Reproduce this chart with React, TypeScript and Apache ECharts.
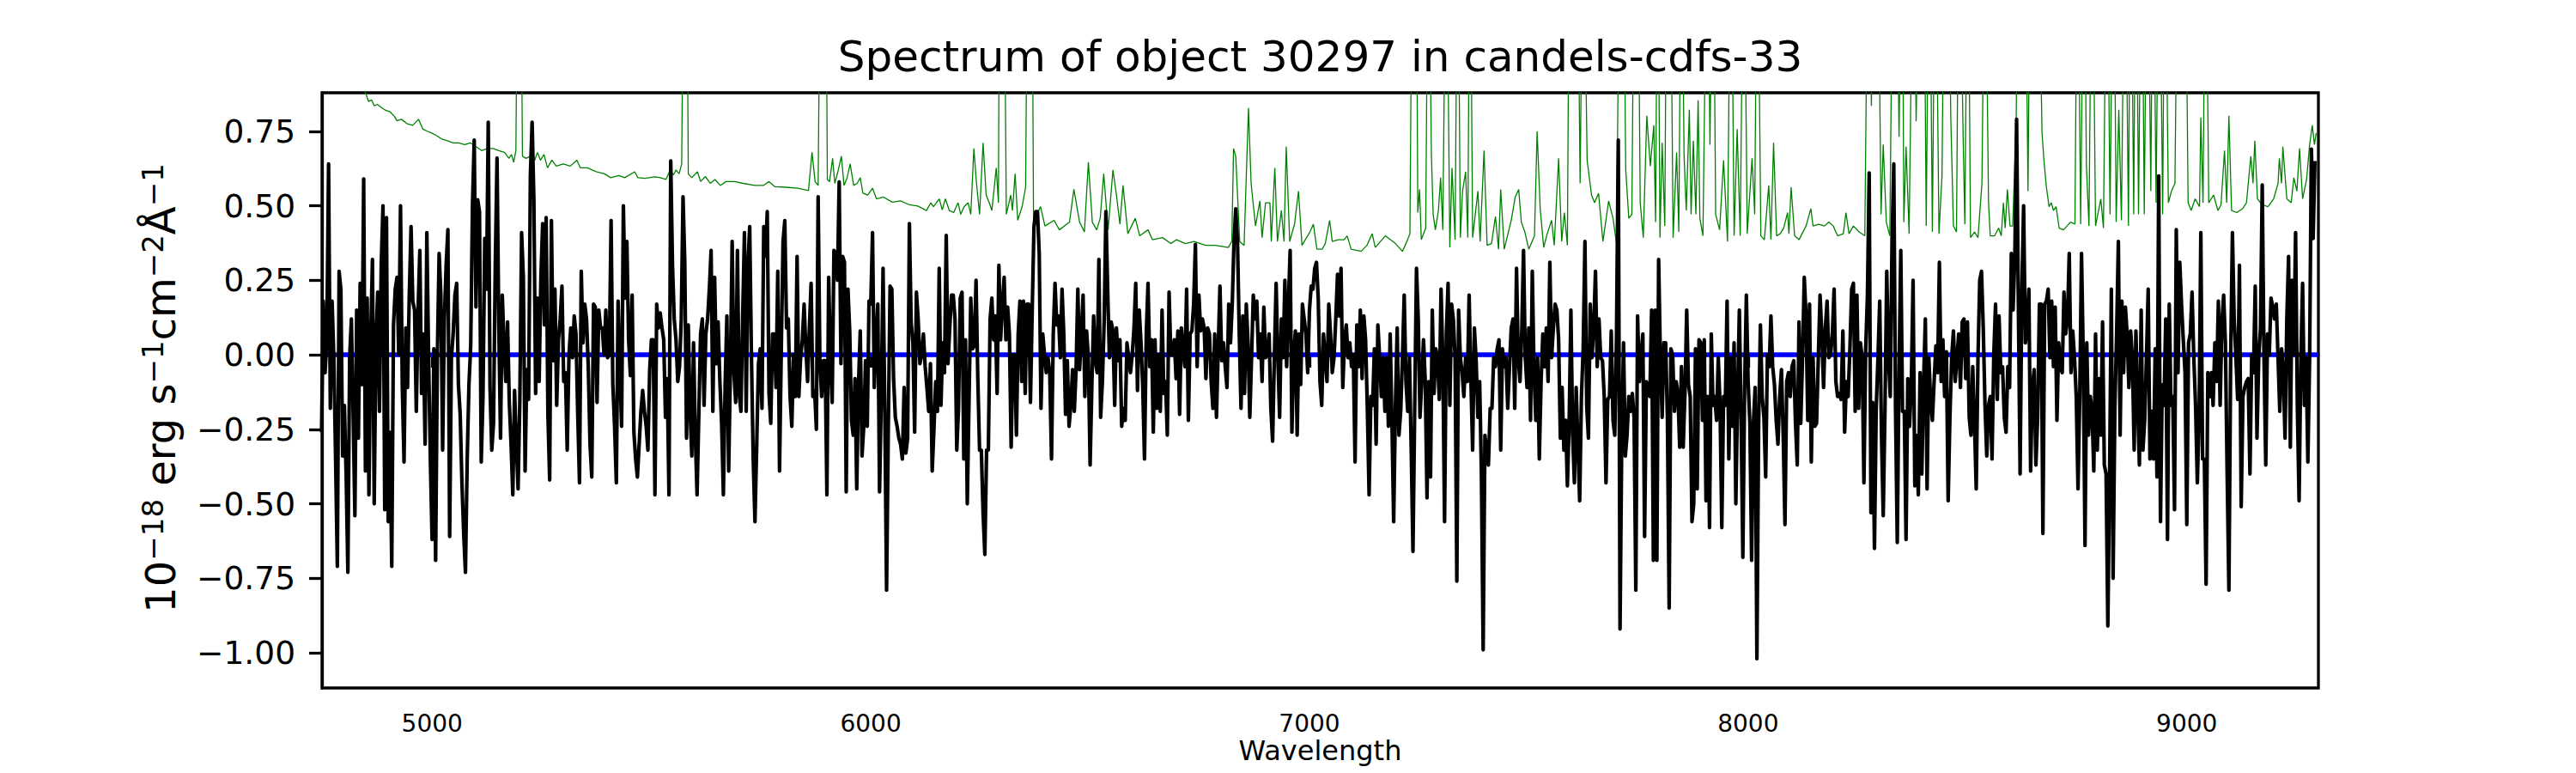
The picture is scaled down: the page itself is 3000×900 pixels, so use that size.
import React, { useEffect, useRef } from "react";
import * as echarts from "echarts";

const FONT = "DejaVu Sans";
const TITLE = "Spectrum of object 30297 in candels-cdfs-33";
const X_NAME = "Wavelength";

// wavelength grid of the flux spectrum (Angstrom)
const WAVE_START = 4748;
const WAVE_STEP = 4;

// flux (1e-18 erg/s/cm2/A), 4 A sampling
const FLUX_SEG1 = [
  -0.26, 0.18, -0.06, 0.05, 0.64, -0.18, 0.18, -0.01, -0.35, -0.71,
  0.28, 0.22, -0.34, -0.17, -0.4, -0.73, -0.01, 0.12, -0.2, -0.54,
  0.15, -0.28, 0.24, -0.1, 0.59, -0.39, 0.19, -0.47, 0.05, 0.32,
  -0.5, 0.05, 0.21, -0.19, 0.3, 0.5, -0.52, 0.46, -0.56, -0.26,
  -0.71, 0.1, 0.22, 0.26, 0.0, 0.5, -0.1, -0.36, 0.09, -0.11,
  0.2, 0.43, 0.18, 0.15, -0.19, 0.15, 0.35, -0.13, 0.07, -0.3,
  0.41, -0.01, -0.35, -0.62, 0.02, -0.69, 0.0, 0.34, 0.2, -0.32,
  0.12, 0.3, 0.42, -0.61, -0.01, 0.07, 0.2, 0.24, -0.1, -0.2,
  -0.43, -0.6, -0.73, -0.35, -0.1, 0.03, 0.5, 0.72, 0.16, 0.52,
  0.48, -0.36, -0.14, 0.39, 0.22, 0.78, -0.11, -0.32, -0.23, 0.3,
  0.66, 0.1, -0.28, 0.2, 0.03, -0.09, 0.11, -0.16, -0.3, -0.47,
  -0.12, -0.3, -0.45, -0.15, 0.41, 0.26, -0.39, -0.05, -0.15, 0.6,
  0.78, 0.52, -0.13, 0.19, -0.09, 0.26, 0.44, 0.1, 0.46, -0.2,
  -0.42, 0.45, -0.02, 0.22, -0.17, 0.05, 0.12, 0.23, -0.09, -0.06,
  -0.32, 0.0, 0.09, -0.01, 0.13, 0.07, -0.2, -0.43, 0.28, 0.04,
  0.17, 0.12, -0.04, -0.3, -0.41, 0.17, 0.16, -0.16, 0.15, 0.09,
  0.09, 0.0, 0.15, -0.01, 0.0, 0.45, -0.1, -0.24, -0.43, 0.18,
  -0.05, -0.24, 0.5, 0.19, 0.38, 0.05, -0.07, 0.2, -0.26, -0.35,
  -0.41, -0.3, -0.19, -0.12, -0.19, -0.24, -0.32, -0.05, 0.05, 0.05,
];
const FLUX_SEG2 = [
  -0.47, 0.17, 0.09, 0.14, 0.09, 0.05, -0.21, -0.08, -0.47, 0.65,
  0.3, 0.12, 0.05, -0.09, -0.04, 0.12, 0.53, 0.31, -0.28, 0.1,
  -0.18, -0.34, 0.04, -0.27, -0.47, -0.2, 0.07, 0.12, -0.17, 0.07, 0.12,
  0.22, 0.35, -0.19, 0.26, -0.03, 0.11, -0.09, -0.23, -0.47, -0.1,
  0.13, -0.39, -0.05, 0.38, -0.06, -0.16, 0.35, -0.13, -0.19, 0.13,
  0.41, -0.19, 0.3, 0.43, -0.01, -0.35, -0.56, -0.3, -0.03, 0.02, -0.18,
  0.43, 0.33, 0.48, -0.13, -0.23, 0.07, 0.07, -0.11, 0.28, -0.39,
  0.02, 0.38, 0.45, 0.09, 0.12, -0.14, -0.24, 0.0, -0.14, 0.33,
  -0.14, -0.01, 0.05, 0.17, 0.02, -0.09, 0.09, 0.24, -0.14, -0.12, -0.25,
  0.53, -0.02, -0.14, -0.02, -0.02, -0.47, 0.26, -0.01, -0.16, 0.35,
  0.34, 0.25, 0.58, -0.03, 0.33, 0.31, -0.46, 0.22, 0.08, -0.22,
  -0.27, -0.08, -0.45, -0.1, 0.08, -0.34, -0.24, -0.02, -0.24, 0.18, 0.17,
  0.41, -0.11, 0.05, 0.17, -0.46, -0.14, 0.29, -0.19, -0.79, -0.24,
  0.23, 0.22, -0.08, -0.21, -0.24, -0.28, -0.3, -0.35, -0.11, -0.33, -0.28,
  0.44, 0.11, 0.04, -0.26, 0.21, 0.12, -0.03, 0.0, 0.07, -0.04,
  -0.11, -0.19, -0.03, -0.39, -0.25, -0.09, -0.19, 0.29, -0.17, 0.04, -0.06,
  0.4, -0.03, 0.09, 0.2, 0.2, 0.12, -0.32, -0.18, 0.19, 0.21,
  -0.35, 0.05, -0.5, -0.15, 0.19, 0.02, 0.03, 0.25, -0.08, -0.32, -0.32,
  -0.53, -0.67, -0.32,
];
const FLUX_SEG3 = [
  -0.32, 0.12, 0.19, 0.05, 0.13, -0.13, 0.3, 0.05, 0.17, 0.26,
  0.05, 0.16, 0.07, -0.31, 0.0, 0.0, -0.27, 0.07, 0.18, -0.09,
  0.18, -0.13, 0.17, 0.17, -0.16, 0.15, 0.43, 0.48, 0.48, 0.34,
  -0.18, 0.07, 0.0, -0.06, -0.01, -0.06, -0.35, 0.07, 0.24, 0.1,
  0.13, -0.01, 0.22, 0.07, -0.2, -0.02, -0.24, -0.17, -0.05, -0.19,
  -0.05, 0.22, -0.05, 0.07, 0.2, -0.14, 0.08, -0.01, -0.37, -0.1,
  0.13, -0.02, -0.06, 0.32, -0.21, -0.09, 0.11, 0.48, 0.22, -0.01,
  0.11, 0.08, -0.17, 0.09, -0.02, 0.05, -0.24, -0.18, -0.22, 0.04,
  -0.01, -0.06, 0.0, 0.09, 0.24, -0.12, 0.15, 0.04, -0.11, -0.35,
  0.07, 0.24, -0.04, 0.05, -0.26, 0.05, -0.18, 0.0, -0.19, 0.15,
  -0.13, -0.09, -0.27, 0.21, 0.0, 0.0, 0.05, -0.08, 0.08, -0.2,
  0.09, 0.02, -0.04, 0.22, -0.22, 0.07, 0.08, 0.17, 0.37, -0.04,
  0.2, 0.08, 0.12, 0.09, -0.08, 0.09, 0.07, -0.09, -0.18, 0.07,
  -0.21, 0.02, 0.23, -0.02, 0.04, -0.04, -0.11, 0.17, 0.04, 0.17,
  0.38, 0.49, 0.38, 0.07, -0.18, 0.13, -0.13, 0.17, 0.04, -0.21,
  -0.01, 0.2, 0.12, 0.18, -0.01, 0.07, -0.09, 0.16, -0.01, 0.0,
  0.07, -0.18, -0.29, -0.01, 0.24, -0.01, -0.21, 0.12, -0.01, 0.25,
  -0.04, 0.17, 0.35, -0.26, 0.0, 0.08, -0.27, 0.07, -0.1, 0.17,
  0.12, 0.07, -0.06, 0.15, 0.23, 0.22, 0.29, 0.31, 0.19, -0.09,
];
const FLUX_SEG4 = [
  -0.17, 0.07, -0.01, -0.09, 0.17, 0.07, -0.06, -0.01, 0.12,
  0.27, 0.13, 0.29, -0.11, 0.05, 0.1, -0.01, 0.04, -0.04, 0.0,
  -0.36, 0.1, -0.04, 0.15, -0.08, 0.13, 0.05, -0.18, -0.47,
  -0.14, -0.17, 0.02, -0.3, 0.1, -0.01, -0.14, -0.01, -0.19, -0.01,
  -0.24, 0.07, -0.22, -0.56, -0.17, 0.09, -0.27, -0.19, -0.01,
  0.2, -0.09, -0.19, -0.01, -0.32, -0.66, -0.17, 0.29, 0.12, -0.21,
  -0.09, 0.05, -0.09, -0.48, -0.09, -0.41, 0.15, -0.13, 0.02, -0.01,
  -0.15, 0.22, -0.01, -0.56, 0.07, 0.24, -0.17, 0.17, 0.12, -0.01,
  -0.76, 0.15, -0.01, -0.06, -0.14, -0.01, -0.09, 0.2, -0.08, -0.32,
  0.09, -0.02, -0.21, -0.09, -0.4, -0.99, -0.27, -0.32, -0.37, -0.18,
  -0.18, -0.01, -0.04, 0.02, 0.05, -0.32, 0.02, -0.04, -0.01,
  -0.18, -0.04, 0.09, 0.12, -0.18, 0.29, -0.01, -0.09, 0.08, 0.35,
  -0.01, -0.11, 0.09, -0.22, 0.28, -0.06, -0.22, -0.01, -0.35,
  -0.09, 0.07, -0.04, 0.09, -0.09, 0.31, -0.01, 0.09, 0.17, 0.15,
  0.05, -0.28, -0.11, -0.32, -0.22, -0.44, -0.23, 0.15, -0.27, -0.43,
  -0.11, -0.3, -0.49, -0.14, 0.02, 0.38, -0.17, -0.28, 0.17,
  -0.01, 0.09, 0.28, -0.04, 0.12, -0.01, -0.02, -0.14, -0.43, -0.15,
  -0.14, 0.08, -0.22, -0.27, 0.07, 0.72, -0.92, -0.27, 0.04, -0.34,
  -0.27, -0.14, -0.19, -0.13, -0.21, -0.79, 0.13, -0.09, 0.0,
  0.07, -0.61, -0.09, -0.13, -0.14, 0.15, -0.69,
];
const FLUX_SEG5 = [
  0.15, -0.69, 0.32, -0.01, -0.21, 0.04, 0.04, -0.21, -0.85, 0.02,
  0.0, -0.19, -0.09, -0.13, -0.31, -0.04, -0.31, -0.13, 0.15,
  -0.1, -0.14, -0.56, -0.5, 0.02, -0.45, 0.05, 0.04, -0.22, 0.05,
  -0.49, -0.14, -0.58, 0.07, -0.17, -0.14, -0.22, -0.01, -0.17,
  -0.58, -0.14, -0.17, 0.18, -0.35, -0.01, -0.24, 0.04, -0.5, -0.14,
  0.15, -0.22, -0.68, -0.11, 0.2, -0.09, -0.23, -0.69, -0.23,
  -0.11, -1.02, -0.23, 0.1, -0.14, -0.21, -0.41, 0.0, -0.04, 0.13,
  -0.04, -0.1, -0.22, -0.3, -0.14, -0.05, -0.27, -0.57, -0.09, -0.06,
  -0.14, -0.04, -0.02, -0.23, -0.37, 0.11, -0.23, -0.01, 0.26, 0.13,
  -0.22, 0.17, -0.36, -0.01, -0.24, -0.23, -0.01, 0.2, 0.07,
  -0.11, 0.09, 0.18, -0.01, 0.0, 0.07, 0.22, -0.09, -0.14, -0.13,
  -0.15, 0.08, -0.26, -0.09, -0.14, 0.02, 0.22, 0.24, -0.19,
  0.2, -0.18, 0.04, -0.01, -0.43, 0.02, 0.2, 0.61, -0.53, -0.16,
  -0.65, -0.18, -0.01, 0.18, -0.27, -0.54, -0.18, 0.28, -0.01, -0.14,
  0.38, 0.64, -0.18, -0.63, -0.06, 0.35, -0.19, -0.19, -0.62, -0.08,
  -0.24, -0.1, 0.25, -0.44, -0.27, -0.47, -0.06, -0.4, -0.09,
  0.12, -0.45, -0.01, -0.15, -0.22, -0.09, 0.03, -0.06, 0.31, -0.09,
  0.05, -0.14, 0.01, -0.49, -0.21, -0.01, 0.08, -0.09, -0.01, 0.07,
  -0.11, 0.11, 0.12, -0.08, 0.11, -0.21, -0.27, -0.04, -0.23,
  -0.45, -0.01, 0.25, 0.28, 0.09, -0.17, -0.34,
];
const FLUX_SEG6 = [
  -0.17, -0.14, -0.35, 0.0, 0.17, -0.15, 0.13, -0.06, -0.04,
  -0.21, -0.26, -0.04, -0.11, 0.34, 0.15, 0.33, 0.79, 0.17, -0.4,
  0.22, 0.5, 0.04, 0.09, 0.22, -0.39, -0.11, -0.05, -0.37,
  -0.21, 0.17, 0.17, -0.6, 0.17, 0.18, 0.22, -0.01, 0.18, -0.04,
  0.16, -0.22, 0.04, -0.04, -0.06, 0.21, 0.07, 0.12, 0.34,
  -0.06, 0.08, -0.01, -0.14, -0.45, -0.14, 0.34, -0.01, -0.64, 0.04,
  -0.27, -0.14, -0.19, -0.39, 0.07, -0.32, -0.08, -0.27, 0.11, -0.37,
  -0.4, -0.91, -0.4, 0.22, -0.75, -0.18, 0.07, 0.38, -0.27, 0.18,
  -0.06, 0.16, 0.07, -0.11, 0.08, -0.01, -0.32, 0.08, -0.17, -0.37,
  0.15, -0.32, -0.22, -0.01, 0.22, -0.35, -0.19, -0.35, 0.02, -0.41,
  0.6, -0.56, -0.1, -0.17, 0.12, -0.62, 0.17, -0.17, -0.14, -0.52,
  0.42, -0.06, 0.31, 0.17, 0.05, -0.06, -0.57, 0.04, 0.07,
  0.21, -0.01, -0.17, -0.43, -0.22, 0.41, -0.35, -0.35, -0.77, -0.06,
  -0.14, -0.06, -0.17, 0.04, -0.09, 0.18, -0.17, 0.11, 0.2,
  0.04, -0.4, -0.79, -0.01, 0.41, 0.12, -0.01, -0.15, 0.3, -0.51,
  -0.14, -0.11, -0.09, -0.08, -0.4, 0.0, -0.06, 0.23, -0.28,
  -0.01, 0.09, 0.57, -0.01, -0.37, 0.07, 0.0, 0.19, 0.16,
  0.12, 0.17, -0.01, -0.19, 0.02, -0.06, -0.28, 0.12, 0.33,
  -0.31, 0.25, 0.0, 0.41, -0.17, -0.49, -0.01, 0.24, -0.17, -0.01,
  -0.36, -0.01, 0.69, 0.39, 0.65,
];

// error / sky spectrum (green), [wavelength, value]; spikes run off the top
const SKY_SEG1 = [
  [4748, 1.0], [4790, 0.95], [4830, 0.9], [4848, 0.88], [4855, 0.85], [4862, 0.855], [4868, 0.835],
  [4875, 0.84], [4884, 0.83], [4894, 0.82], [4904, 0.815], [4914, 0.8], [4920, 0.785], [4930, 0.79],
  [4943, 0.775], [4956, 0.77], [4969, 0.79], [4979, 0.757], [4989, 0.75], [4999, 0.744], [5008, 0.737],
  [5022, 0.724], [5035, 0.718], [5048, 0.711], [5061, 0.711], [5074, 0.705], [5087, 0.711], [5100, 0.698],
  [5113, 0.685], [5126, 0.692], [5139, 0.692], [5152, 0.685], [5165, 0.679], [5175, 0.659], [5181, 0.672],
  [5186, 0.646], [5191, 0.685], [5196, 1.6], [5201, 1.6], [5206, 0.666], [5214, 0.659], [5224, 0.666],
  [5234, 0.653], [5240, 0.679], [5247, 0.653], [5255, 0.672], [5263, 0.627], [5273, 0.653], [5283, 0.633],
  [5299, 0.64], [5315, 0.633], [5330, 0.653], [5338, 0.627], [5354, 0.627], [5374, 0.614], [5393, 0.607],
  [5407, 0.594], [5426, 0.601], [5439, 0.594], [5462, 0.614], [5469, 0.594], [5485, 0.592], [5508, 0.597],
];
const SKY_SEG2 = [
  [5520, 0.594], [5533, 0.588], [5543, 0.62], [5550, 0.603], [5556, 0.62], [5563, 0.607], [5569, 0.64],
  [5574, 1.6], [5580, 1.6], [5584, 0.607], [5592, 0.594], [5605, 0.614], [5612, 0.581], [5623, 0.598],
  [5634, 0.575], [5645, 0.588], [5657, 0.568], [5670, 0.581], [5690, 0.581], [5709, 0.575], [5736, 0.568],
  [5755, 0.568], [5768, 0.581], [5781, 0.564], [5807, 0.562], [5833, 0.559], [5858, 0.551], [5866, 0.679],
  [5873, 0.581], [5880, 0.568], [5886, 1.6], [5897, 1.6], [5901, 0.588], [5906, 0.581], [5913, 0.659],
  [5918, 0.575], [5925, 0.614], [5933, 0.666], [5939, 0.568], [5946, 0.594], [5953, 0.64], [5961, 0.568],
  [5969, 0.575], [5976, 0.594], [5982, 0.542], [5993, 0.536], [6004, 0.559], [6013, 0.523], [6029, 0.529],
  [6049, 0.512], [6068, 0.516], [6088, 0.503], [6107, 0.499], [6127, 0.484], [6137, 0.51], [6143, 0.497],
  [6156, 0.523], [6163, 0.486], [6170, 0.523], [6179, 0.484], [6189, 0.477], [6199, 0.51], [6205, 0.471],
  [6213, 0.497], [6222, 0.51], [6228, 0.471], [6235, 0.692], [6241, 0.575], [6248, 0.471], [6256, 0.711],
  [6263, 0.536],
];
const SKY_SEG3 = [
  [6270, 0.51], [6276, 0.484], [6286, 0.627], [6291, 0.51], [6294, 1.6], [6303, 1.6], [6309, 0.471],
  [6319, 0.536], [6323, 0.484], [6329, 0.607], [6335, 0.451], [6345, 0.497], [6353, 0.562], [6358, 1.6],
  [6367, 1.6], [6371, 0.445], [6387, 0.497], [6397, 0.432], [6418, 0.451], [6430, 0.419], [6453, 0.445],
  [6463, 0.555], [6476, 0.445], [6487, 0.412], [6496, 0.646], [6505, 0.445], [6515, 0.419], [6523, 0.458],
  [6531, 0.607], [6541, 0.419], [6552, 0.62], [6560, 0.536], [6568, 0.438], [6575, 0.568], [6586, 0.406],
  [6603, 0.458], [6613, 0.399], [6632, 0.419], [6642, 0.386], [6665, 0.393], [6684, 0.373], [6697, 0.386],
  [6717, 0.373], [6737, 0.38], [6763, 0.367], [6785, 0.367], [6815, 0.36], [6823, 0.38], [6827, 0.692],
  [6832, 0.666], [6841, 0.38], [6851, 0.367], [6861, 0.828], [6867, 0.575], [6877, 0.432], [6887, 0.516],
  [6892, 0.393], [6900, 0.51], [6910, 0.51], [6913, 0.38], [6921, 0.627], [6927, 0.38], [6936, 0.484],
  [6942, 0.38], [6947, 0.698], [6955, 0.38], [6966, 0.438], [6975, 0.549], [6983, 0.367], [7001, 0.412],
  [7009, 0.438], [7017, 0.354], [7029, 0.354],
];
const SKY_SEG4 = [
  [7036, 0.373], [7046, 0.451], [7052, 0.38], [7066, 0.386], [7079, 0.386], [7086, 0.399], [7095, 0.354],
  [7118, 0.347], [7131, 0.367], [7143, 0.406], [7150, 0.36], [7173, 0.399], [7196, 0.373], [7212, 0.347],
  [7222, 0.38], [7229, 0.406], [7235, 1.6], [7243, 1.6], [7247, 0.477], [7251, 0.555], [7255, 0.386],
  [7265, 0.425], [7271, 1.6], [7278, 0.672], [7282, 0.471], [7287, 0.419], [7294, 0.484], [7299, 0.594],
  [7304, 0.419], [7312, 1.6], [7320, 0.36], [7325, 0.627], [7332, 0.386], [7338, 1.6], [7344, 0.393],
  [7349, 0.549], [7356, 0.614], [7361, 0.393], [7366, 1.6], [7372, 0.393], [7384, 0.549], [7389, 0.38],
  [7398, 0.685], [7405, 0.367], [7415, 0.373], [7424, 0.464], [7431, 0.354], [7436, 0.555], [7444, 0.354],
  [7460, 0.451], [7469, 0.529], [7477, 0.555], [7483, 0.445], [7491, 0.412], [7500, 0.354], [7513, 0.399],
  [7519, 0.75], [7526, 0.49], [7534, 0.36], [7542, 0.406], [7552, 0.451], [7558, 0.367], [7568, 0.659],
  [7575, 0.38], [7581, 0.477], [7588, 0.367], [7593, 1.6], [7601, 1.6], [7610, 1.6], [7617, 0.575],
  [7624, 1.6], [7633, 0.653], [7643, 0.536], [7650, 0.51], [7659, 0.542], [7669, 0.38], [7682, 0.516],
  [7692, 0.458], [7700, 0.373], [7708, 1.6], [7715, 1.6], [7721, 0.62], [7728, 0.458], [7735, 0.471],
  [7741, 1.6], [7748, 1.6], [7754, 0.51], [7761, 0.393], [7769, 0.802], [7777, 0.633], [7785, 0.77],
];
const SKY_SEG5 = [
  [7789, 0.445], [7794, 1.6], [7799, 0.393], [7804, 0.711], [7810, 0.432], [7815, 1.6], [7822, 1.6],
  [7829, 0.393], [7837, 0.679], [7842, 0.412], [7848, 1.6], [7854, 0.666], [7859, 0.484], [7866, 0.822],
  [7870, 0.471], [7875, 0.718], [7881, 0.471], [7886, 0.854], [7890, 0.458], [7897, 0.399], [7907, 1.6],
  [7913, 0.705], [7920, 1.6], [7926, 0.471], [7935, 0.419], [7944, 0.653], [7953, 0.38], [7961, 1.6],
  [7968, 0.399], [7975, 0.757], [7982, 0.399], [7990, 1.6], [7998, 0.406], [8009, 0.659], [8015, 0.471],
  [8021, 1.6], [8029, 0.399], [8037, 0.386], [8047, 0.568], [8052, 0.386], [8058, 0.711], [8065, 0.399],
  [8073, 0.406], [8081, 0.425], [8090, 0.477], [8093, 0.406], [8098, 0.562], [8106, 0.399], [8116, 0.386],
  [8132, 0.432], [8143, 0.49], [8148, 0.432], [8161, 0.438], [8174, 0.432], [8184, 0.445], [8194, 0.432],
  [8204, 0.399], [8217, 0.406], [8223, 0.477], [8230, 0.406], [8240, 0.432], [8253, 0.412], [8266, 0.399],
  [8274, 1.6], [8281, 0.835], [8287, 1.6], [8295, 1.6], [8303, 0.471], [8308, 0.705], [8315, 0.445],
  [8323, 0.399], [8331, 1.6], [8338, 1.6], [8344, 0.731], [8351, 1.6], [8355, 0.445], [8360, 0.698],
  [8367, 0.406], [8377, 1.6], [8383, 0.783], [8392, 1.6], [8400, 1.6], [8406, 0.432], [8413, 1.6],
  [8420, 0.412], [8427, 1.6], [8435, 0.406], [8442, 0.601], [8448, 1.6], [8455, 1.6], [8462, 0.796],
  [8468, 0.432], [8475, 0.412], [8481, 1.6], [8490, 0.744], [8494, 0.438], [8501, 1.6], [8507, 0.393],
  [8516, 0.412], [8524, 0.393], [8533, 0.575], [8540, 1.6], [8548, 0.51],
];
const SKY_SEG6 = [
  [8552, 0.399], [8562, 0.399], [8571, 0.425], [8577, 0.399], [8582, 0.51], [8586, 0.425], [8591, 0.555],
  [8597, 0.432], [8603, 0.432], [8611, 0.77], [8616, 1.6], [8631, 1.6], [8638, 0.549], [8644, 1.6],
  [8660, 1.6], [8670, 0.744], [8675, 0.64], [8680, 0.562], [8686, 0.497], [8691, 0.51], [8696, 0.484],
  [8702, 0.497], [8709, 0.425], [8719, 0.419], [8727, 0.432], [8735, 0.445], [8745, 0.438], [8751, 1.6],
  [8758, 0.438], [8766, 1.6], [8771, 0.64], [8777, 0.432], [8784, 1.6], [8792, 0.432], [8804, 0.523],
  [8810, 0.425], [8818, 1.6], [8825, 0.471], [8833, 1.6], [8839, 0.445], [8845, 0.822], [8851, 0.451],
  [8859, 1.6], [8867, 0.432], [8872, 1.6], [8879, 0.471], [8884, 1.6], [8890, 0.471], [8897, 1.6],
  [8903, 0.471], [8910, 1.6], [8918, 0.549], [8923, 1.6], [8930, 0.51], [8937, 1.6], [8945, 0.471],
  [8950, 1.6], [8958, 0.51], [8965, 0.549], [8973, 0.575], [8980, 1.6], [8988, 1.6], [8996, 1.6],
  [9003, 0.51], [9010, 0.484], [9019, 0.523], [9029, 0.497], [9032, 0.796], [9037, 0.51], [9043, 1.6],
  [9050, 0.51], [9061, 0.536], [9071, 0.484], [9078, 0.503], [9086, 0.685], [9091, 0.51], [9096, 0.802],
  [9102, 0.484], [9114, 0.477], [9127, 0.49], [9136, 0.51], [9146, 0.666], [9151, 0.575], [9155, 0.718],
  [9161, 0.523], [9172, 0.503], [9185, 0.497], [9198, 0.523], [9208, 0.575], [9211, 0.659], [9216, 0.575],
  [9219, 0.698], [9228, 0.523], [9238, 0.51], [9244, 0.594], [9251, 0.549], [9257, 0.692], [9264, 0.523],
  [9273, 0.588], [9280, 0.705], [9286, 0.77], [9291, 0.705], [9295, 0.744],
];

// model (blue): flat at zero
const MODEL_WAVE = [4749, 9300];
const MODEL_FLUX = [0, 0];

const X_MIN = 4749;
const X_MAX = 9300;
const Y_MIN = -1.118;
const Y_MAX = 0.879;
const X_TICKS = [5000, 6000, 7000, 8000, 9000];
const Y_TICKS = [-1, -0.75, -0.5, -0.25, 0, 0.25, 0.5, 0.75];

const FLUX = [
  ...FLUX_SEG1, ...FLUX_SEG2, ...FLUX_SEG3,
  ...FLUX_SEG4, ...FLUX_SEG5, ...FLUX_SEG6,
];
const SKY = [
  ...SKY_SEG1, ...SKY_SEG2, ...SKY_SEG3,
  ...SKY_SEG4, ...SKY_SEG5, ...SKY_SEG6,
];

export default function App() {
  const ref = useRef<HTMLDivElement>(null);

  useEffect(() => {
    if (!ref.current) return;
    const chart = echarts.init(ref.current, null, { renderer: "svg" });

    const fluxData = FLUX.map((v, i) => [WAVE_START + WAVE_STEP * i, v]);
    const modelData = MODEL_WAVE.map((w, i) => [w, MODEL_FLUX[i]]);

    const option = {
      animation: false,
      backgroundColor: "#ffffff",
      textStyle: { fontFamily: FONT },
      grid: {
        left: 375,
        top: 108,
        width: 2325,
        height: 693,
        show: true,
        borderColor: "#000000",
        borderWidth: 3.3,
        backgroundColor: "transparent",
      },
      xAxis: {
        type: "value",
        min: X_MIN,
        max: X_MAX,
        axisLine: { show: true, lineStyle: { color: "#000", width: 3.3 } },
        axisTick: {
          show: true,
          length: 15,
          lineStyle: { color: "#000", width: 3.3 },
          customValues: X_TICKS,
        },
        axisLabel: {
          customValues: X_TICKS,
          fontSize: 28,
          fontFamily: FONT,
          color: "#000",
          margin: 27,
          formatter: (v: number) => String(v),
        },
        splitLine: { show: false },
      },
      yAxis: {
        type: "value",
        min: Y_MIN,
        max: Y_MAX,
        axisLine: { show: true, lineStyle: { color: "#000", width: 3.3 } },
        axisTick: {
          show: true,
          length: 15,
          lineStyle: { color: "#000", width: 3.3 },
          customValues: Y_TICKS,
        },
        axisLabel: {
          customValues: Y_TICKS,
          fontSize: 37.5,
          fontFamily: FONT,
          color: "#000",
          margin: 31,
          formatter: (v: number) => {
            const s = Math.abs(v).toFixed(2);
            return v < 0 ? "\u2212" + s : s;
          },
        },
        splitLine: { show: false },
      },
      graphic: [
        {
          type: "text",
          x: 1537.5,
          y: 65.5,
          silent: true,
          style: {
            text: TITLE,
            fontSize: 50,
            fontFamily: FONT,
            fill: "#000",
            align: "center",
            verticalAlign: "middle",
          },
        },
        {
          type: "text",
          x: 1537.5,
          y: 874,
          silent: true,
          style: {
            text: X_NAME,
            fontSize: 32,
            fontFamily: FONT,
            fill: "#000",
            align: "center",
            verticalAlign: "middle",
          },
        },
        {
          type: "text",
          x: 186,
          y: 452,
          rotation: Math.PI / 2,
          silent: true,
          style: {
            text: "{m|10}{s|\u221218}{m| erg s}{s|\u22121}{m|cm}{s|\u22122}{m|\u00c5}{s|\u22121}",
            align: "center",
            verticalAlign: "middle",
            rich: {
              m: { fontSize: 48, fontFamily: FONT, fill: "#000", verticalAlign: "bottom", lineHeight: 50 },
              s: { fontSize: 34, fontFamily: FONT, fill: "#000", verticalAlign: "top", lineHeight: 30 },
            },
          },
        },
      ],
      series: [
        {
          name: "error",
          type: "line",
          data: SKY,
          showSymbol: false,
          symbol: "none",
          clip: true,
          z: 1,
          lineStyle: { color: "#008000", width: 1.3 },
          silent: true,
        },
        {
          name: "model",
          type: "line",
          data: modelData,
          showSymbol: false,
          symbol: "none",
          clip: true,
          z: 2,
          lineStyle: { color: "#0000ff", width: 5.5 },
          silent: true,
        },
        {
          name: "flux",
          type: "line",
          data: fluxData,
          showSymbol: false,
          symbol: "none",
          clip: true,
          z: 3,
          sampling: undefined,
          lineStyle: { color: "#000000", width: 4.2, join: "round" },
          silent: true,
        },
      ],
    };

    chart.setOption(option as any);
    return () => chart.dispose();
  }, []);

  return (
    <div
      ref={ref}
      style={{ position: "absolute", left: 0, top: 0, width: 3000, height: 900 }}
    />
  );
}
